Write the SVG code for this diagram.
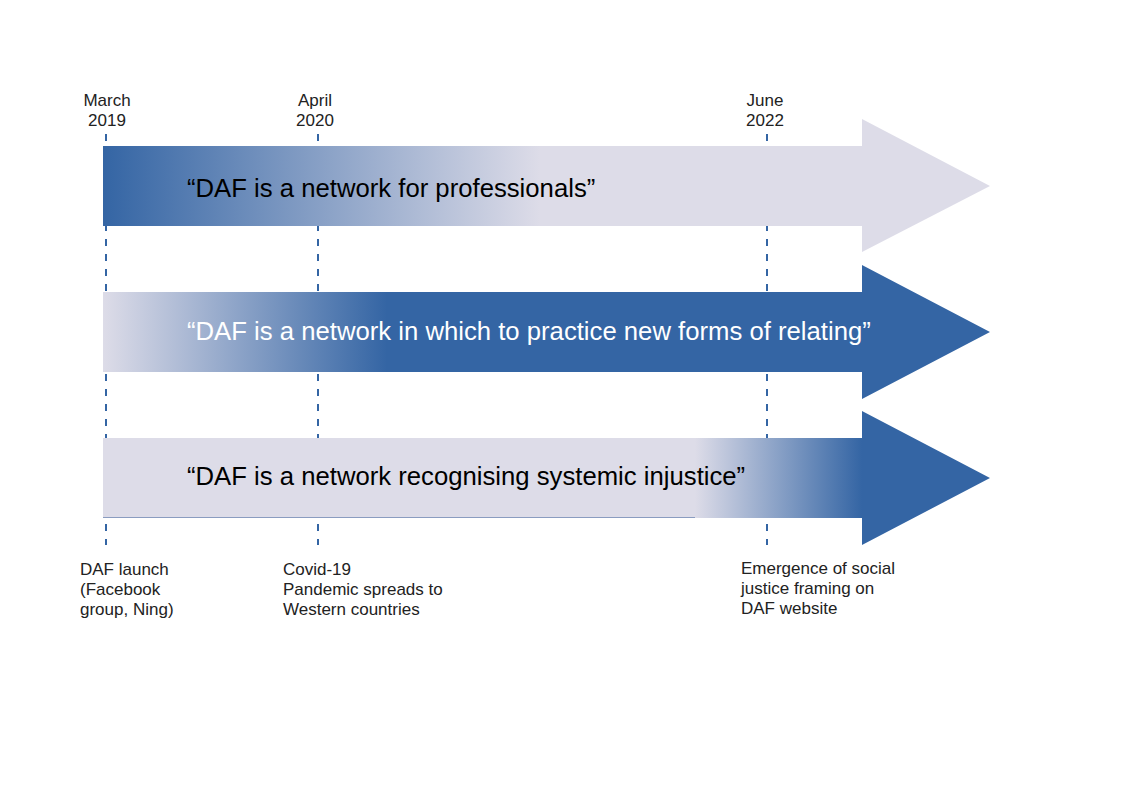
<svg xmlns="http://www.w3.org/2000/svg" width="1123" height="794" viewBox="0 0 1123 794">
<style>
.lbl{font-family:"Liberation Sans",Arial,sans-serif;font-size:17px;fill:#222}
.mid{text-anchor:middle}
.main{font-family:"Liberation Sans",Arial,sans-serif;font-size:25.7px}
.dash{stroke:#3465a4;stroke-width:2;stroke-dasharray:7 8;fill:none}
</style>
<defs>
<linearGradient id="g1" gradientUnits="userSpaceOnUse" x1="103" y1="0" x2="540" y2="0">
<stop offset="0" stop-color="#3465a4"/><stop offset="1" stop-color="#dddce8"/>
</linearGradient>
<linearGradient id="g2" gradientUnits="userSpaceOnUse" x1="103" y1="0" x2="387" y2="0">
<stop offset="0" stop-color="#dddce8"/><stop offset="1" stop-color="#3465a4"/>
</linearGradient>
<linearGradient id="g3" gradientUnits="userSpaceOnUse" x1="695" y1="0" x2="862" y2="0">
<stop offset="0" stop-color="#dddce8"/><stop offset="1" stop-color="#3465a4"/>
</linearGradient>
</defs>
<g id="connectors">
<line class="dash" x1="106" y1="134" x2="106" y2="545"/>
<line class="dash" x1="318" y1="134" x2="318" y2="545"/>
<line class="dash" x1="767" y1="134" x2="767" y2="545"/>
</g>
<g id="arrow1">
<path d="M103 146H862V119L990 186L862 252V226H103Z" fill="url(#g1)"/>
<text class="main" x="187" y="197" fill="#000">“DAF is a network for professionals”</text>
</g>
<g id="arrow2">
<path d="M103 292H862V265L990 332L862 399V372H103Z" fill="url(#g2)"/>
<text class="main" x="187" y="340" fill="#fff">“DAF is a network in which to practice new forms of relating”</text>
</g>
<g id="arrow3">
<path d="M103 438H862V411L990 478L862 545V518H103Z" fill="url(#g3)"/>
<line x1="103" y1="517.5" x2="695" y2="517.5" stroke="#8a9cc0" stroke-width="1"/>
<text class="main" x="187" y="485" fill="#000">“DAF is a network recognising systemic injustice”</text>
</g>
<g id="date-2019">
<text class="lbl mid" x="107" y="106">March</text>
<text class="lbl mid" x="107" y="126">2019</text>
</g>
<g id="date-2020">
<text class="lbl mid" x="315" y="106">April</text>
<text class="lbl mid" x="315" y="126">2020</text>
</g>
<g id="date-2022">
<text class="lbl mid" x="765" y="106">June</text>
<text class="lbl mid" x="765" y="126">2022</text>
</g>
<g id="event-launch">
<text class="lbl" x="80" y="575">DAF launch</text>
<text class="lbl" x="80" y="595">(Facebook</text>
<text class="lbl" x="80" y="615">group, Ning)</text>
</g>
<g id="event-covid">
<text class="lbl" x="283" y="575">Covid-19</text>
<text class="lbl" x="283" y="595">Pandemic spreads to</text>
<text class="lbl" x="283" y="615">Western countries</text>
</g>
<g id="event-justice">
<text class="lbl" x="741" y="574">Emergence of social</text>
<text class="lbl" x="741" y="594">justice framing on</text>
<text class="lbl" x="741" y="614">DAF website</text>
</g>
</svg>
